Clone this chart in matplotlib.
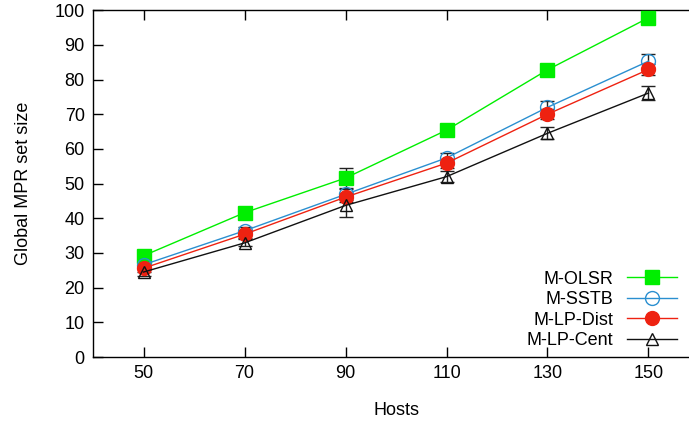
import matplotlib
matplotlib.use("Agg")
import matplotlib.pyplot as plt

plt.rcParams['font.family'] = ['Liberation Sans', 'DejaVu Sans']
plt.rcParams['font.size'] = 13

hosts = [50, 70, 90, 110, 130, 150]

olsr = [29.2, 41.6, 51.6, 65.4, 82.8, 97.8]
olsr_err = [0.8, 0.8, 3.0, 1.5, 1.5, 1.5]
sstb = [26.6, 36.4, 46.9, 57.4, 72.0, 85.3]
sstb_err = [1.0, 1.2, 1.5, 1.5, 1.7, 2.0]
lp_dist = [25.6, 35.4, 46.1, 55.9, 70.0, 82.9]
lp_dist_err = [1.0, 1.2, 1.3, 1.3, 1.5, 1.5]
lp_cent = [24.5, 32.9, 43.7, 52.0, 64.5, 76.1]
lp_cent_err = [1.0, 1.0, 3.2, 1.5, 1.7, 2.0]

series = [
    ("M-OLSR", olsr, olsr_err, "#00ee00", "s", "#00ee00"),
    ("M-SSTB", sstb, sstb_err, "#2a8fd0", "o", "none"),
    ("M-LP-Dist", lp_dist, lp_dist_err, "#ee2211", "o", "#ee2211"),
    ("M-LP-Cent", lp_cent, lp_cent_err, "#111111", "^", "none"),
]

fig = plt.figure(figsize=(6.89, 4.24), dpi=100)
# right edge of the frame lies just past the picture, as in the original
ax = fig.add_axes([0.135, 0.158, 0.8795, 0.818])

for name, vals, errs, col, mk, fc in series:
    # error bars first, in dark grey like the original
    ax.errorbar(hosts, vals, yerr=errs, fmt="none", ecolor="#222222",
                elinewidth=1, capsize=5, capthick=1, zorder=2)
    ax.plot(hosts, vals, color=col, lw=1, marker=mk, markersize=10 if mk != "^" else 9,
            markerfacecolor=fc, markeredgecolor=col, markeredgewidth=1,
            label=name, zorder=3)

ax.set_xlim(40, 160)
ax.set_ylim(0, 100)
ax.set_xticks(hosts)
ax.set_yticks(range(0, 101, 10))
ax.tick_params(direction="in", length=7, top=True, right=True, width=1, pad=6)
for s in ax.spines.values():
    s.set_linewidth(1)

ax.set_xlabel("Hosts", labelpad=14)
ax.set_ylabel("Global MPR set size", labelpad=16)

ax.legend(loc="lower right", bbox_to_anchor=(0.964, 0.022), frameon=False,
          markerfirst=False, handlelength=2.8, handletextpad=0.75,
          labelspacing=0.2, borderaxespad=0, borderpad=0, fontsize=13)

fig.savefig("out.png", dpi=100)
